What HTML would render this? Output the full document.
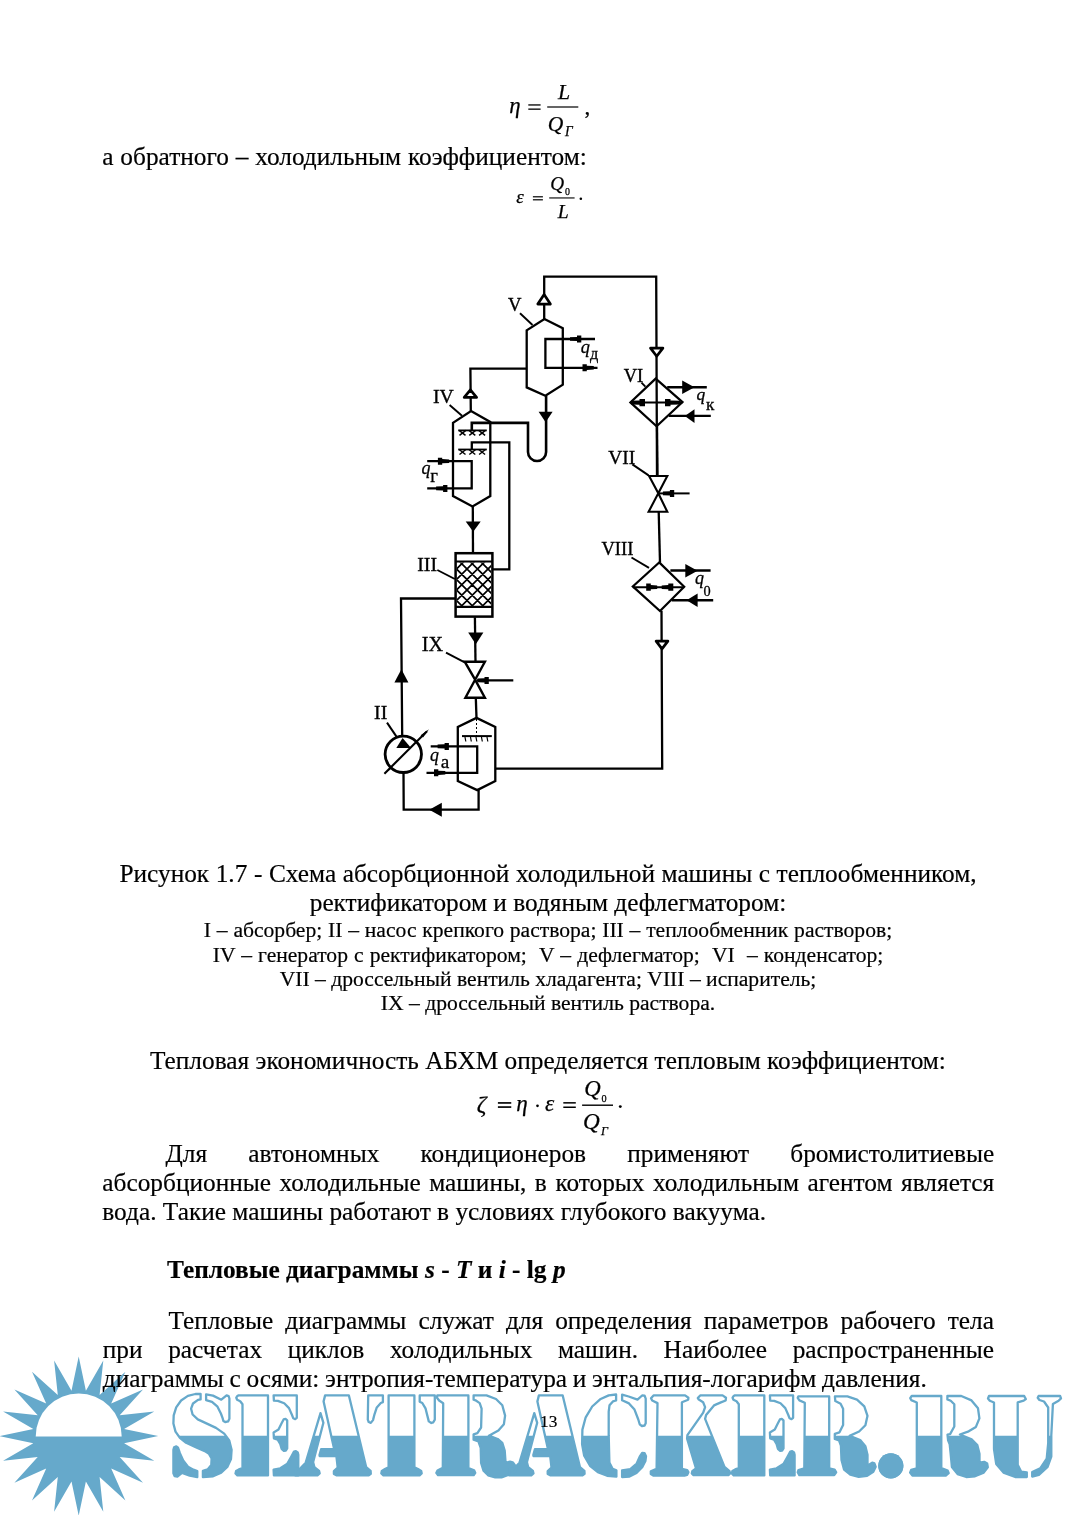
<!DOCTYPE html>
<html><head><meta charset="utf-8">
<style>
html,body{margin:0;padding:0;background:#fff;}
body{width:1080px;height:1515px;position:relative;overflow:hidden;font-family:"Liberation Serif",serif;color:#000;}
.t{-webkit-text-stroke:0.2px #000;position:absolute;white-space:pre;font-size:25.33px;line-height:30px;}
.s{-webkit-text-stroke:0.2px #000;position:absolute;white-space:pre;font-size:21.6px;line-height:30px;left:0;width:1096px;text-align:center;}
.c{left:0;width:1096px;text-align:center;}
.j{text-align:justify;text-align-last:justify;white-space:normal;}
.m{position:absolute;font-family:"Liberation Serif",serif;white-space:pre;line-height:1;}
.i{font-style:italic;}
svg{position:absolute;left:0;top:0;}
#root{position:absolute;left:0;top:0;width:1080px;height:1515px;will-change:transform;}
</style></head><body><div id="root">

<!-- watermark placeholder -->
<!--BEGIN wm-->
<svg width="1080" height="1515" style="position:absolute;left:0;top:0">
<polygon fill="#66a9cb" points="78.7,1356.6 85.9,1390.7 103.3,1360.5 99.6,1395.1 125.4,1371.8 111.2,1403.6 143.0,1389.4 119.7,1415.2 154.3,1411.5 124.1,1428.9 158.2,1436.1 124.1,1443.3 154.3,1460.7 119.7,1457.0 143.0,1482.8 111.2,1468.6 125.4,1500.4 99.6,1477.1 103.3,1511.7 85.9,1481.5 78.7,1515.6 71.5,1481.5 54.1,1511.7 57.8,1477.1 32.0,1500.4 46.2,1468.6 14.4,1482.8 37.7,1457.0 3.1,1460.7 33.3,1443.3 -0.8,1436.1 33.3,1428.9 3.1,1411.5 37.7,1415.2 14.4,1389.4 46.2,1403.6 32.0,1371.8 57.8,1395.1 54.1,1360.5 71.5,1390.7"/>
<path d="M35.7,1436.5 A43,43 0 0 1 121.7,1436.5 Z" fill="#fff"/>
<clipPath id="wmb"><rect x="0" y="1435.8" width="1080" height="100"/></clipPath>
<g fill="#66a9cb" clip-path="url(#wmb)"><polygon points="200.6,1394.0 195.4,1394.0 187.9,1395.9 181.1,1400.5 176.2,1407.3 173.7,1415.4 173.4,1423.5 175.5,1431.6 179.9,1437.8 186.1,1442.8 195.7,1447.2 204.8,1451.1 209.0,1453.9 211.6,1458.4 211.3,1464.9 207.6,1469.4 202.9,1470.8 202.9,1477.2 213.1,1476.3 221.2,1472.6 227.3,1467.0 231.0,1459.0 231.6,1449.7 229.2,1440.4 224.2,1433.6 216.0,1427.9 206.4,1423.4 197.8,1419.4 192.6,1414.5 191.1,1408.7 193.0,1403.5 198.0,1399.9 200.6,1399.4"/><polygon points="206.1,1394.3 206.1,1400.1 212.0,1401.9 217.5,1406.7 220.9,1413.5 222.6,1418.1 223.4,1421.0 225.2,1422.1 228.1,1421.4 229.4,1418.8 229.4,1398.5 228.6,1396.1 226.6,1395.4 221.3,1399.7 213.0,1395.6"/><polygon points="197.3,1471.1 193.4,1469.7 188.0,1466.7 183.2,1460.5 179.9,1453.2 178.0,1447.7 176.3,1446.3 174.1,1447.2 173.4,1449.7 173.4,1473.3 174.6,1476.1 177.4,1476.5 182.1,1472.9 189.7,1475.7 197.3,1477.0"/><polygon points="238.6,1395.4 237.3,1396.0 236.3,1397.7 237.1,1399.7 240.2,1401.2 242.5,1404.3 242.5,1468.1 238.9,1469.4 236.1,1471.0 235.5,1473.5 237.4,1475.4 268.0,1475.4 268.0,1395.4"/><polygon points="273.6,1395.4 273.9,1400.6 277.9,1400.9 284.2,1403.3 289.0,1408.1 292.0,1415.0 293.3,1418.3 295.2,1419.2 296.8,1417.8 296.8,1395.4"/><polygon points="273.6,1432.4 273.9,1438.3 277.7,1439.7 280.2,1443.8 281.6,1448.8 283.9,1450.9 285.8,1450.6 287.2,1448.4 287.2,1420.4 285.5,1418.9 283.6,1419.4 281.6,1423.3 278.5,1429.6"/><polygon points="273.6,1469.7 273.9,1475.4 298.3,1475.4 298.3,1454.8 297.7,1452.4 295.9,1451.1 294.0,1451.6 291.2,1456.7 287.4,1463.6 280.3,1468.3"/><polygon points="320.5,1413.1 305.7,1462.7 299.9,1468.8 295.4,1468.8 295.4,1475.4 317.5,1475.4 319.7,1473.5 319.1,1470.9 314.4,1467.2 313.1,1462.1 323.4,1422.8"/><polygon points="325.1,1395.4 323.6,1401.4 334.2,1449.2 321.1,1449.2 319.5,1455.1 319.7,1456.1 336.4,1456.1 337.7,1467.7 333.9,1471.1 333.9,1474.0 336.8,1475.4 368.7,1475.4 370.8,1473.8 370.6,1470.8 366.2,1467.2 348.9,1395.4"/><polygon points="368.2,1395.4 367.8,1419.7 368.7,1422.0 370.8,1422.9 373.0,1420.1 374.5,1414.3 376.8,1407.4 380.8,1403.0 382.9,1402.1 382.9,1395.4"/><polygon points="388.6,1395.4 388.6,1467.2 385.0,1469.0 381.8,1470.9 381.3,1473.5 383.4,1475.4 419.6,1475.4 421.7,1473.5 421.2,1470.9 418.0,1469.0 414.4,1467.2 414.4,1395.4"/><polygon points="419.7,1395.4 419.7,1401.7 422.3,1403.0 425.5,1408.3 427.4,1415.9 428.8,1421.4 431.3,1423.0 433.3,1422.3 434.8,1419.6 434.8,1395.4"/><polygon points="437.3,1395.4 437.0,1397.7 439.1,1400.5 443.2,1403.2 442.8,1467.9 437.5,1470.5 436.3,1472.9 438.1,1475.2 473.6,1475.2 475.3,1472.9 474.1,1470.2 468.4,1468.0 468.4,1395.4"/><polygon points="473.6,1395.4 473.6,1399.7 475.5,1400.3 479.7,1403.1 481.6,1408.7 481.1,1427.5 477.4,1433.1 473.6,1434.3 473.6,1439.7 478.4,1441.3 480.7,1447.8 481.1,1462.8 483.5,1470.7 488.1,1475.3 495.2,1477.3 501.5,1477.3 509.6,1474.4 515.6,1471.4 516.3,1468.2 514.9,1465.3 512.7,1462.3 510.0,1461.7 505.6,1462.8 504.7,1450.7 502.3,1442.8 497.7,1439.0 488.9,1435.7 498.4,1430.4 503.9,1424.2 505.1,1415.6 502.3,1405.3 496.0,1399.0 486.5,1395.4"/><polygon points="534.3,1413.1 519.5,1462.7 513.7,1468.8 509.2,1468.8 509.2,1475.4 531.3,1475.4 533.5,1473.5 532.9,1470.9 528.2,1467.2 526.9,1462.1 537.2,1422.8"/><polygon points="538.9,1395.4 537.4,1401.4 548.0,1449.2 534.9,1449.2 533.3,1455.1 533.5,1456.1 550.2,1456.1 551.5,1467.7 547.7,1471.1 547.7,1474.0 550.6,1475.4 582.5,1475.4 584.6,1473.8 584.4,1470.8 580.0,1467.2 562.7,1395.4"/><polygon points="616.1,1394.5 608.7,1395.4 600.1,1399.3 592.2,1406.5 585.7,1417.3 582.4,1429.6 582.1,1444.2 584.2,1455.7 590.0,1465.8 597.8,1472.2 607.1,1475.8 616.4,1476.7 616.4,1470.3 612.7,1468.9 609.4,1462.4 608.7,1435.4 608.7,1411.6 609.5,1405.3 612.9,1401.4 616.1,1400.5"/><polygon points="622.1,1394.7 622.1,1400.2 629.0,1403.4 634.5,1409.6 638.3,1419.5 639.7,1424.3 641.9,1426.0 644.6,1425.5 645.7,1423.3 645.7,1398.6 644.6,1395.7 642.1,1395.5 637.5,1399.7 628.7,1396.5"/><polygon points="622.1,1470.5 622.1,1477.1 629.5,1476.5 636.5,1473.0 642.2,1467.3 645.4,1461.0 646.0,1456.3 644.6,1453.2 642.2,1452.9 639.7,1456.7 636.7,1463.5 630.3,1469.1"/><polygon points="653.5,1395.4 651.0,1398.2 652.2,1400.5 657.5,1403.1 656.6,1468.8 650.8,1471.3 650.8,1474.0 653.3,1475.6 684.5,1475.6 687.2,1474.9 688.4,1472.2 687.2,1470.2 681.9,1468.9 681.9,1402.2 688.2,1399.7 688.4,1397.7 685.1,1395.4"/><polygon points="700.2,1395.4 697.8,1398.1 698.8,1399.6 703.1,1402.2 705.1,1407.1 703.2,1412.7 687.4,1435.1 687.1,1438.7 696.0,1468.4 692.3,1471.2 691.8,1473.5 693.5,1475.2 728.4,1475.2 730.1,1473.5 729.5,1471.1 724.5,1467.0 705.1,1418.9 706.1,1415.0 714.0,1405.4 720.9,1402.4 725.7,1400.5 726.0,1397.7 722.6,1395.4"/><polygon points="734.9,1395.4 733.6,1396.0 732.6,1397.7 733.4,1399.7 736.5,1401.2 738.8,1404.3 738.8,1468.1 735.2,1469.4 732.4,1471.0 731.8,1473.5 733.7,1475.4 764.3,1475.4 764.3,1395.4"/><polygon points="769.9,1395.4 770.2,1400.6 774.2,1400.9 780.5,1403.3 785.3,1408.1 788.3,1415.0 789.6,1418.3 791.5,1419.2 793.1,1417.8 793.1,1395.4"/><polygon points="769.9,1432.4 770.2,1438.3 774.0,1439.7 776.5,1443.8 777.9,1448.8 780.2,1450.9 782.1,1450.6 783.5,1448.4 783.5,1420.4 781.8,1418.9 779.9,1419.4 777.9,1423.3 774.8,1429.6"/><polygon points="769.9,1469.7 770.2,1475.4 794.6,1475.4 794.6,1454.8 794.0,1452.4 792.2,1451.1 790.3,1451.6 787.5,1456.7 783.7,1463.6 776.6,1468.3"/><polygon points="798.3,1396.4 797.7,1397.9 799.4,1400.4 804.8,1402.8 804.3,1468.3 798.5,1470.0 797.7,1472.3 799.3,1475.2 834.2,1475.2 836.2,1472.4 834.6,1469.6 829.2,1468.4 829.2,1396.4"/><polygon points="834.9,1396.4 835.3,1401.1 840.6,1403.8 843.1,1408.8 843.1,1424.9 839.5,1432.3 834.8,1433.8 834.8,1438.9 839.0,1440.4 840.9,1445.5 841.5,1460.0 844.1,1469.6 850.3,1474.7 858.7,1476.8 867.1,1475.8 873.3,1471.7 875.7,1466.8 874.4,1463.4 872.2,1462.6 867.5,1465.7 867.5,1454.8 865.4,1446.3 860.2,1440.1 849.6,1435.9 859.1,1431.5 865.4,1425.2 867.5,1415.8 864.3,1406.4 857.0,1399.6 847.4,1396.4"/><polygon points="911.7,1396.0 910.2,1398.1 911.2,1400.1 916.8,1402.5 916.8,1468.3 911.2,1469.9 910.1,1472.6 912.4,1475.5 945.8,1475.5 948.7,1473.2 947.7,1470.6 941.3,1468.2 941.3,1396.0"/><polygon points="947.4,1396.0 947.4,1399.4 950.7,1400.8 954.3,1404.3 954.3,1426.5 950.1,1434.1 947.5,1434.7 948.1,1440.4 949.7,1444.3 950.5,1452.1 951.9,1467.0 957.6,1474.1 966.3,1477.0 975.0,1476.3 983.7,1472.6 987.8,1467.2 987.2,1463.6 984.2,1461.8 979.5,1462.7 979.5,1453.8 977.3,1445.1 971.6,1439.4 959.9,1434.5 968.7,1431.3 975.9,1426.9 979.4,1418.4 978.0,1408.3 971.5,1400.4 961.3,1396.0"/><polygon points="989.0,1396.0 988.0,1398.5 989.8,1400.8 994.0,1402.5 994.0,1449.0 996.2,1463.9 1003.5,1472.6 1015.2,1477.0 1026.8,1477.0 1026.8,1472.3 1021.1,1471.6 1017.7,1464.7 1017.7,1402.4 1023.7,1400.7 1025.8,1399.1 1024.2,1396.0"/><polygon points="1038.6,1396.0 1037.7,1397.8 1039.4,1400.0 1044.0,1401.5 1048.2,1407.5 1048.2,1443.1 1046.7,1458.7 1040.2,1468.4 1032.2,1472.0 1032.2,1476.6 1038.9,1474.8 1047.6,1466.8 1051.3,1456.6 1051.3,1435.3 1052.9,1404.1 1058.6,1400.8 1061.0,1398.4 1060.1,1396.0"/><circle cx="890.8" cy="1465.8" r="12.6"/></g>
<g fill="none" stroke="#66a9cb" stroke-width="2.3" stroke-linejoin="round"><polygon points="200.6,1394.0 195.4,1394.0 187.9,1395.9 181.1,1400.5 176.2,1407.3 173.7,1415.4 173.4,1423.5 175.5,1431.6 179.9,1437.8 186.1,1442.8 195.7,1447.2 204.8,1451.1 209.0,1453.9 211.6,1458.4 211.3,1464.9 207.6,1469.4 202.9,1470.8 202.9,1477.2 213.1,1476.3 221.2,1472.6 227.3,1467.0 231.0,1459.0 231.6,1449.7 229.2,1440.4 224.2,1433.6 216.0,1427.9 206.4,1423.4 197.8,1419.4 192.6,1414.5 191.1,1408.7 193.0,1403.5 198.0,1399.9 200.6,1399.4"/><polygon points="206.1,1394.3 206.1,1400.1 212.0,1401.9 217.5,1406.7 220.9,1413.5 222.6,1418.1 223.4,1421.0 225.2,1422.1 228.1,1421.4 229.4,1418.8 229.4,1398.5 228.6,1396.1 226.6,1395.4 221.3,1399.7 213.0,1395.6"/><polygon points="197.3,1471.1 193.4,1469.7 188.0,1466.7 183.2,1460.5 179.9,1453.2 178.0,1447.7 176.3,1446.3 174.1,1447.2 173.4,1449.7 173.4,1473.3 174.6,1476.1 177.4,1476.5 182.1,1472.9 189.7,1475.7 197.3,1477.0"/><polygon points="238.6,1395.4 237.3,1396.0 236.3,1397.7 237.1,1399.7 240.2,1401.2 242.5,1404.3 242.5,1468.1 238.9,1469.4 236.1,1471.0 235.5,1473.5 237.4,1475.4 268.0,1475.4 268.0,1395.4"/><polygon points="273.6,1395.4 273.9,1400.6 277.9,1400.9 284.2,1403.3 289.0,1408.1 292.0,1415.0 293.3,1418.3 295.2,1419.2 296.8,1417.8 296.8,1395.4"/><polygon points="273.6,1432.4 273.9,1438.3 277.7,1439.7 280.2,1443.8 281.6,1448.8 283.9,1450.9 285.8,1450.6 287.2,1448.4 287.2,1420.4 285.5,1418.9 283.6,1419.4 281.6,1423.3 278.5,1429.6"/><polygon points="273.6,1469.7 273.9,1475.4 298.3,1475.4 298.3,1454.8 297.7,1452.4 295.9,1451.1 294.0,1451.6 291.2,1456.7 287.4,1463.6 280.3,1468.3"/><polygon points="320.5,1413.1 305.7,1462.7 299.9,1468.8 295.4,1468.8 295.4,1475.4 317.5,1475.4 319.7,1473.5 319.1,1470.9 314.4,1467.2 313.1,1462.1 323.4,1422.8"/><polygon points="325.1,1395.4 323.6,1401.4 334.2,1449.2 321.1,1449.2 319.5,1455.1 319.7,1456.1 336.4,1456.1 337.7,1467.7 333.9,1471.1 333.9,1474.0 336.8,1475.4 368.7,1475.4 370.8,1473.8 370.6,1470.8 366.2,1467.2 348.9,1395.4"/><polygon points="368.2,1395.4 367.8,1419.7 368.7,1422.0 370.8,1422.9 373.0,1420.1 374.5,1414.3 376.8,1407.4 380.8,1403.0 382.9,1402.1 382.9,1395.4"/><polygon points="388.6,1395.4 388.6,1467.2 385.0,1469.0 381.8,1470.9 381.3,1473.5 383.4,1475.4 419.6,1475.4 421.7,1473.5 421.2,1470.9 418.0,1469.0 414.4,1467.2 414.4,1395.4"/><polygon points="419.7,1395.4 419.7,1401.7 422.3,1403.0 425.5,1408.3 427.4,1415.9 428.8,1421.4 431.3,1423.0 433.3,1422.3 434.8,1419.6 434.8,1395.4"/><polygon points="437.3,1395.4 437.0,1397.7 439.1,1400.5 443.2,1403.2 442.8,1467.9 437.5,1470.5 436.3,1472.9 438.1,1475.2 473.6,1475.2 475.3,1472.9 474.1,1470.2 468.4,1468.0 468.4,1395.4"/><polygon points="473.6,1395.4 473.6,1399.7 475.5,1400.3 479.7,1403.1 481.6,1408.7 481.1,1427.5 477.4,1433.1 473.6,1434.3 473.6,1439.7 478.4,1441.3 480.7,1447.8 481.1,1462.8 483.5,1470.7 488.1,1475.3 495.2,1477.3 501.5,1477.3 509.6,1474.4 515.6,1471.4 516.3,1468.2 514.9,1465.3 512.7,1462.3 510.0,1461.7 505.6,1462.8 504.7,1450.7 502.3,1442.8 497.7,1439.0 488.9,1435.7 498.4,1430.4 503.9,1424.2 505.1,1415.6 502.3,1405.3 496.0,1399.0 486.5,1395.4"/><polygon points="534.3,1413.1 519.5,1462.7 513.7,1468.8 509.2,1468.8 509.2,1475.4 531.3,1475.4 533.5,1473.5 532.9,1470.9 528.2,1467.2 526.9,1462.1 537.2,1422.8"/><polygon points="538.9,1395.4 537.4,1401.4 548.0,1449.2 534.9,1449.2 533.3,1455.1 533.5,1456.1 550.2,1456.1 551.5,1467.7 547.7,1471.1 547.7,1474.0 550.6,1475.4 582.5,1475.4 584.6,1473.8 584.4,1470.8 580.0,1467.2 562.7,1395.4"/><polygon points="616.1,1394.5 608.7,1395.4 600.1,1399.3 592.2,1406.5 585.7,1417.3 582.4,1429.6 582.1,1444.2 584.2,1455.7 590.0,1465.8 597.8,1472.2 607.1,1475.8 616.4,1476.7 616.4,1470.3 612.7,1468.9 609.4,1462.4 608.7,1435.4 608.7,1411.6 609.5,1405.3 612.9,1401.4 616.1,1400.5"/><polygon points="622.1,1394.7 622.1,1400.2 629.0,1403.4 634.5,1409.6 638.3,1419.5 639.7,1424.3 641.9,1426.0 644.6,1425.5 645.7,1423.3 645.7,1398.6 644.6,1395.7 642.1,1395.5 637.5,1399.7 628.7,1396.5"/><polygon points="622.1,1470.5 622.1,1477.1 629.5,1476.5 636.5,1473.0 642.2,1467.3 645.4,1461.0 646.0,1456.3 644.6,1453.2 642.2,1452.9 639.7,1456.7 636.7,1463.5 630.3,1469.1"/><polygon points="653.5,1395.4 651.0,1398.2 652.2,1400.5 657.5,1403.1 656.6,1468.8 650.8,1471.3 650.8,1474.0 653.3,1475.6 684.5,1475.6 687.2,1474.9 688.4,1472.2 687.2,1470.2 681.9,1468.9 681.9,1402.2 688.2,1399.7 688.4,1397.7 685.1,1395.4"/><polygon points="700.2,1395.4 697.8,1398.1 698.8,1399.6 703.1,1402.2 705.1,1407.1 703.2,1412.7 687.4,1435.1 687.1,1438.7 696.0,1468.4 692.3,1471.2 691.8,1473.5 693.5,1475.2 728.4,1475.2 730.1,1473.5 729.5,1471.1 724.5,1467.0 705.1,1418.9 706.1,1415.0 714.0,1405.4 720.9,1402.4 725.7,1400.5 726.0,1397.7 722.6,1395.4"/><polygon points="734.9,1395.4 733.6,1396.0 732.6,1397.7 733.4,1399.7 736.5,1401.2 738.8,1404.3 738.8,1468.1 735.2,1469.4 732.4,1471.0 731.8,1473.5 733.7,1475.4 764.3,1475.4 764.3,1395.4"/><polygon points="769.9,1395.4 770.2,1400.6 774.2,1400.9 780.5,1403.3 785.3,1408.1 788.3,1415.0 789.6,1418.3 791.5,1419.2 793.1,1417.8 793.1,1395.4"/><polygon points="769.9,1432.4 770.2,1438.3 774.0,1439.7 776.5,1443.8 777.9,1448.8 780.2,1450.9 782.1,1450.6 783.5,1448.4 783.5,1420.4 781.8,1418.9 779.9,1419.4 777.9,1423.3 774.8,1429.6"/><polygon points="769.9,1469.7 770.2,1475.4 794.6,1475.4 794.6,1454.8 794.0,1452.4 792.2,1451.1 790.3,1451.6 787.5,1456.7 783.7,1463.6 776.6,1468.3"/><polygon points="798.3,1396.4 797.7,1397.9 799.4,1400.4 804.8,1402.8 804.3,1468.3 798.5,1470.0 797.7,1472.3 799.3,1475.2 834.2,1475.2 836.2,1472.4 834.6,1469.6 829.2,1468.4 829.2,1396.4"/><polygon points="834.9,1396.4 835.3,1401.1 840.6,1403.8 843.1,1408.8 843.1,1424.9 839.5,1432.3 834.8,1433.8 834.8,1438.9 839.0,1440.4 840.9,1445.5 841.5,1460.0 844.1,1469.6 850.3,1474.7 858.7,1476.8 867.1,1475.8 873.3,1471.7 875.7,1466.8 874.4,1463.4 872.2,1462.6 867.5,1465.7 867.5,1454.8 865.4,1446.3 860.2,1440.1 849.6,1435.9 859.1,1431.5 865.4,1425.2 867.5,1415.8 864.3,1406.4 857.0,1399.6 847.4,1396.4"/><polygon points="911.7,1396.0 910.2,1398.1 911.2,1400.1 916.8,1402.5 916.8,1468.3 911.2,1469.9 910.1,1472.6 912.4,1475.5 945.8,1475.5 948.7,1473.2 947.7,1470.6 941.3,1468.2 941.3,1396.0"/><polygon points="947.4,1396.0 947.4,1399.4 950.7,1400.8 954.3,1404.3 954.3,1426.5 950.1,1434.1 947.5,1434.7 948.1,1440.4 949.7,1444.3 950.5,1452.1 951.9,1467.0 957.6,1474.1 966.3,1477.0 975.0,1476.3 983.7,1472.6 987.8,1467.2 987.2,1463.6 984.2,1461.8 979.5,1462.7 979.5,1453.8 977.3,1445.1 971.6,1439.4 959.9,1434.5 968.7,1431.3 975.9,1426.9 979.4,1418.4 978.0,1408.3 971.5,1400.4 961.3,1396.0"/><polygon points="989.0,1396.0 988.0,1398.5 989.8,1400.8 994.0,1402.5 994.0,1449.0 996.2,1463.9 1003.5,1472.6 1015.2,1477.0 1026.8,1477.0 1026.8,1472.3 1021.1,1471.6 1017.7,1464.7 1017.7,1402.4 1023.7,1400.7 1025.8,1399.1 1024.2,1396.0"/><polygon points="1038.6,1396.0 1037.7,1397.8 1039.4,1400.0 1044.0,1401.5 1048.2,1407.5 1048.2,1443.1 1046.7,1458.7 1040.2,1468.4 1032.2,1472.0 1032.2,1476.6 1038.9,1474.8 1047.6,1466.8 1051.3,1456.6 1051.3,1435.3 1052.9,1404.1 1058.6,1400.8 1061.0,1398.4 1060.1,1396.0"/></g>
<circle cx="890.8" cy="1465.8" r="12.6" fill="#66a9cb"/>
</svg>
<!--END wm-->

<!-- formula 1 -->
<!--BEGIN f1-->
<svg width="1080" height="1515" style="position:absolute;left:0;top:0" font-family="Liberation Serif">
<text x="509.20" y="112.90" font-size="22.81" font-style="italic" stroke="#000" stroke-width="0.25">η</text>
<rect x="528.30" y="104.30" width="12.30" height="1.30" fill="#000"/>
<rect x="528.30" y="108.50" width="12.30" height="1.30" fill="#000"/>
<rect x="547.20" y="106.40" width="31.10" height="1.20" fill="#000"/>
<text x="558.00" y="98.70" font-size="21.83" font-style="italic" stroke="#000" stroke-width="0.25">L</text>
<text x="547.70" y="130.90" font-size="21.48" font-style="italic" stroke="#000" stroke-width="0.25">Q</text>
<text x="565.10" y="135.60" font-size="13.59" font-style="italic" stroke="#000" stroke-width="0.25">Г</text>
<text x="584.6" y="113.6" font-size="23" stroke="#000" stroke-width="0.25">,</text>
<text x="516.30" y="203.10" font-size="18.92" font-style="italic" stroke="#000" stroke-width="0.25">ε</text>
<rect x="532.90" y="196.20" width="10.00" height="1.20" fill="#000"/>
<rect x="532.90" y="199.20" width="10.00" height="1.20" fill="#000"/>
<rect x="549.20" y="197.40" width="25.40" height="1.10" fill="#000"/>
<text x="550.15" y="190.20" font-size="19.17" font-style="italic" stroke="#000" stroke-width="0.25">Q</text>
<text x="565.00" y="194.50" font-size="9.93" stroke="#000" stroke-width="0.25">0</text>
<text x="557.70" y="217.90" font-size="19.69" font-style="italic" stroke="#000" stroke-width="0.25">L</text>
<circle cx="580.85" cy="198.75" r="1.30"/>
<text x="476.70" y="1111.70" font-size="23.85" font-style="italic" stroke="#000" stroke-width="0.25">ζ</text>
<rect x="497.90" y="1102.10" width="13.35" height="1.65" fill="#000"/>
<rect x="497.90" y="1106.25" width="13.35" height="1.65" fill="#000"/>
<text x="516.30" y="1110.90" font-size="23.10" font-style="italic" stroke="#000" stroke-width="0.25">η</text>
<circle cx="537.50" cy="1105.85" r="1.35"/>
<text x="544.90" y="1111.00" font-size="23.39" font-style="italic" stroke="#000" stroke-width="0.25">ε</text>
<rect x="563.30" y="1102.10" width="12.50" height="1.50" fill="#000"/>
<rect x="563.30" y="1106.50" width="12.50" height="1.50" fill="#000"/>
<rect x="582.10" y="1104.50" width="30.90" height="1.40" fill="#000"/>
<text x="584.30" y="1096.00" font-size="22.75" font-style="italic" stroke="#000" stroke-width="0.25">Q</text>
<text x="601.50" y="1101.60" font-size="10.22" stroke="#000" stroke-width="0.25">0</text>
<text x="582.90" y="1129.30" font-size="23.18" font-style="italic" stroke="#000" stroke-width="0.25">Q</text>
<text x="600.90" y="1134.70" font-size="12.21" font-style="italic" stroke="#000" stroke-width="0.25">Г</text>
<circle cx="620.30" cy="1106.60" r="1.45"/>
</svg>
<!--END f1-->

<div class="t" style="left:102.3px;top:141.45px;word-spacing:0.5px">а обратного – холодильным коэффициентом:</div>


<!-- diagram -->
<!--BEGIN dg-->
<svg width="1080" height="1515" style="position:absolute;left:0;top:0" font-family="Liberation Serif" stroke-width="0">
<polyline points="544.2,319.0 544.2,276.7 656.2,276.7 657.0,475.6" fill="none" stroke="#000" stroke-width="2.3"/>
<polygon points="544.1,294.6 550.4,304.1 537.8,304.1" fill="#fff" stroke="#000" stroke-width="2.7" stroke-linejoin="round"/>
<polygon points="650.5,348.1 662.9,348.1 656.7,356.3" fill="#fff" stroke="#000" stroke-width="2.7" stroke-linejoin="round"/>
<polygon points="544.4,319.0 562.8,328.3 562.8,384.6 545.4,395.7 526.7,387.4 526.7,330.4" fill="none" stroke="#000" stroke-width="2.3"/>
<polyline points="595.0,339.0 545.4,339.0 545.4,367.8 597.5,367.8" fill="none" stroke="#000" stroke-width="2.3"/>
<polygon points="570.0,337.2 577.0,336.9 577.0,335.5 581.3,335.5 581.3,342.5 577.0,342.5 577.0,341.1 570.0,340.8" fill="#000"/>
<polygon points="593.8,366.0 586.8,365.7 586.8,364.3 582.5,364.3 582.5,371.3 586.8,371.3 586.8,369.9 593.8,369.6" fill="#000"/>
<text x="508.10" y="311.40" font-size="18.66" stroke="#000" stroke-width="0.35">V</text>
<line x1="520.0" y1="313.3" x2="532.5" y2="325.0" stroke="#000" stroke-width="1.9" stroke-linecap="butt"/>
<text x="580.65" y="352.80" font-size="18.27" font-style="italic" stroke="#000" stroke-width="0.3">q</text>
<text x="590.00" y="359.20" font-size="16.26" stroke="#000" stroke-width="0.3">д</text>
<polyline points="526.7,368.6 470.4,368.6 470.8,411.0" fill="none" stroke="#000" stroke-width="2.3"/>
<polygon points="470.4,389.8 476.6,397.4 464.2,397.4" fill="#fff" stroke="#000" stroke-width="2.7" stroke-linejoin="round"/>
<path d="M546.1,395.7 L546.1,452 A9.05,9.05 0 0 1 528,452 L528,422.9 L471.8,422.9 L471.8,430.4" fill="none" stroke="#000" stroke-width="2.6"/>
<polygon points="538.6,411.7 552.6,411.7 545.6,422.2" fill="#000"/>
<polygon points="471.0,411.0 490.3,422.0 490.3,496.0 472.5,506.4 453.0,496.0 453.0,422.8" fill="none" stroke="#000" stroke-width="2.3"/>
<line x1="458.2" y1="430.4" x2="486.8" y2="430.4" stroke="#000" stroke-width="1.8" stroke-linecap="butt"/>
<line x1="459.1" y1="430.4" x2="465.5" y2="435.4" stroke="#000" stroke-width="1.4" stroke-linecap="butt"/>
<line x1="465.9" y1="430.4" x2="459.5" y2="435.4" stroke="#000" stroke-width="1.4" stroke-linecap="butt"/>
<line x1="468.9" y1="430.4" x2="475.3" y2="435.4" stroke="#000" stroke-width="1.4" stroke-linecap="butt"/>
<line x1="475.7" y1="430.4" x2="469.3" y2="435.4" stroke="#000" stroke-width="1.4" stroke-linecap="butt"/>
<line x1="478.7" y1="430.4" x2="485.1" y2="435.4" stroke="#000" stroke-width="1.4" stroke-linecap="butt"/>
<line x1="485.5" y1="430.4" x2="479.1" y2="435.4" stroke="#000" stroke-width="1.4" stroke-linecap="butt"/>
<line x1="458.2" y1="449.5" x2="486.8" y2="449.5" stroke="#000" stroke-width="1.8" stroke-linecap="butt"/>
<line x1="459.1" y1="449.5" x2="465.5" y2="454.5" stroke="#000" stroke-width="1.4" stroke-linecap="butt"/>
<line x1="465.9" y1="449.5" x2="459.5" y2="454.5" stroke="#000" stroke-width="1.4" stroke-linecap="butt"/>
<line x1="468.9" y1="449.5" x2="475.3" y2="454.5" stroke="#000" stroke-width="1.4" stroke-linecap="butt"/>
<line x1="475.7" y1="449.5" x2="469.3" y2="454.5" stroke="#000" stroke-width="1.4" stroke-linecap="butt"/>
<line x1="478.7" y1="449.5" x2="485.1" y2="454.5" stroke="#000" stroke-width="1.4" stroke-linecap="butt"/>
<line x1="485.5" y1="449.5" x2="479.1" y2="454.5" stroke="#000" stroke-width="1.4" stroke-linecap="butt"/>
<polyline points="471.8,449.5 471.8,442.4 509.3,442.4 509.3,569.4 492.4,569.4" fill="none" stroke="#000" stroke-width="2.3"/>
<polyline points="427.2,461.2 471.7,461.2 471.7,488.4 427.2,488.4" fill="none" stroke="#000" stroke-width="2.3"/>
<polygon points="449.2,459.4 442.2,459.1 442.2,457.7 437.9,457.7 437.9,464.7 442.2,464.7 442.2,463.3 449.2,463.0" fill="#000"/>
<polygon points="436.1,486.6 443.1,486.3 443.1,484.9 447.4,484.9 447.4,491.9 443.1,491.9 443.1,490.5 436.1,490.2" fill="#000"/>
<text x="421.60" y="473.50" font-size="17.98" font-style="italic" stroke="#000" stroke-width="0.3">q</text>
<text x="430.30" y="482.30" font-size="18.74" stroke="#000" stroke-width="0.3">г</text>
<text x="432.90" y="403.30" font-size="19.70" stroke="#000" stroke-width="0.35">IV</text>
<line x1="449.6" y1="405.0" x2="462.0" y2="415.8" stroke="#000" stroke-width="1.9" stroke-linecap="butt"/>
<line x1="472.8" y1="506.4" x2="473.0" y2="553.2" stroke="#000" stroke-width="2.3" stroke-linecap="butt"/>
<polygon points="465.7,521.4 480.7,521.4 473.2,531.8" fill="#000"/>
<rect x="455.6" y="553.2" width="36.8" height="63.4" fill="#fff" stroke="#000" stroke-width="2.5"/>
<clipPath id="hx"><rect x="456.8" y="562.5" width="34.2" height="43.5"/></clipPath>
<path clip-path="url(#hx)" d="M312.0,540 L402.0,630 M370.0,540 L280.0,630 M322.5,540 L412.5,630 M380.5,540 L290.5,630 M333.0,540 L423.0,630 M391.0,540 L301.0,630 M343.5,540 L433.5,630 M401.5,540 L311.5,630 M354.0,540 L444.0,630 M412.0,540 L322.0,630 M364.5,540 L454.5,630 M422.5,540 L332.5,630 M375.0,540 L465.0,630 M433.0,540 L343.0,630 M385.5,540 L475.5,630 M443.5,540 L353.5,630 M396.0,540 L486.0,630 M454.0,540 L364.0,630 M406.5,540 L496.5,630 M464.5,540 L374.5,630 M417.0,540 L507.0,630 M475.0,540 L385.0,630 M427.5,540 L517.5,630 M485.5,540 L395.5,630 M438.0,540 L528.0,630 M496.0,540 L406.0,630 M448.5,540 L538.5,630 M506.5,540 L416.5,630 M459.0,540 L549.0,630 M517.0,540 L427.0,630 M469.5,540 L559.5,630 M527.5,540 L437.5,630 M480.0,540 L570.0,630 M538.0,540 L448.0,630 M490.5,540 L580.5,630 M548.5,540 L458.5,630 M501.0,540 L591.0,630 M559.0,540 L469.0,630 M511.5,540 L601.5,630 M569.5,540 L479.5,630 M522.0,540 L612.0,630 M580.0,540 L490.0,630 M532.5,540 L622.5,630 M590.5,540 L500.5,630 M543.0,540 L633.0,630 M601.0,540 L511.0,630 M553.5,540 L643.5,630 M611.5,540 L521.5,630 M564.0,540 L654.0,630 M622.0,540 L532.0,630 M574.5,540 L664.5,630 M632.5,540 L542.5,630" stroke="#000" stroke-width="1.7" fill="none"/>
<line x1="455.6" y1="561.5" x2="492.4" y2="561.5" stroke="#000" stroke-width="2.1" stroke-linecap="butt"/>
<line x1="455.6" y1="606.9" x2="492.4" y2="606.9" stroke="#000" stroke-width="2.1" stroke-linecap="butt"/>
<text x="417.20" y="570.70" font-size="19.85" stroke="#000" stroke-width="0.35">III</text>
<line x1="437.3" y1="570.0" x2="454.8" y2="579.0" stroke="#000" stroke-width="1.9" stroke-linecap="butt"/>
<polyline points="455.6,598.5 401.0,598.5 402.2,736.0" fill="none" stroke="#000" stroke-width="2.3"/>
<polygon points="401.4,669.3 408.4,682.5 394.4,682.5" fill="#000"/>
<line x1="474.9" y1="617.3" x2="475.5" y2="661.7" stroke="#000" stroke-width="2.3" stroke-linecap="butt"/>
<polygon points="468.2,632.5 483.4,632.5 475.8,644.3" fill="#000"/>
<polygon points="464.7,661.7 484.9,661.7 475.1,679.7 465.4,697.8 484.9,697.8 475.1,679.7" fill="none" stroke="#000" stroke-width="2.4"/>
<line x1="513.3" y1="680.4" x2="477.0" y2="680.4" stroke="#000" stroke-width="2.2" stroke-linecap="butt"/>
<polygon points="477.5,678.6 484.5,678.3 484.5,676.9 488.8,676.9 488.8,683.9 484.5,683.9 484.5,682.5 477.5,682.2" fill="#000"/>
<text x="421.70" y="650.60" font-size="20.15" stroke="#000" stroke-width="0.35">IX</text>
<line x1="446.0" y1="652.6" x2="464.7" y2="662.4" stroke="#000" stroke-width="1.9" stroke-linecap="butt"/>
<line x1="475.8" y1="697.8" x2="476.5" y2="717.9" stroke="#000" stroke-width="2.3" stroke-linecap="butt"/>
<polygon points="476.5,717.9 495.3,727.0 495.3,781.1 477.2,790.1 457.8,781.1 457.8,727.0" fill="none" stroke="#000" stroke-width="2.3"/>
<line x1="476.5" y1="719" x2="476.5" y2="736" stroke="#000" stroke-width="1" stroke-dasharray="2,2"/>
<line x1="462.0" y1="736.1" x2="491.8" y2="736.1" stroke="#000" stroke-width="2.0" stroke-linecap="butt"/>
<line x1="465.0" y1="737.0" x2="465.8" y2="741.5" stroke="#000" stroke-width="1.2" stroke-linecap="butt"/>
<line x1="470.5" y1="737.0" x2="471.3" y2="741.5" stroke="#000" stroke-width="1.2" stroke-linecap="butt"/>
<line x1="476.0" y1="737.0" x2="476.8" y2="741.5" stroke="#000" stroke-width="1.2" stroke-linecap="butt"/>
<line x1="481.5" y1="737.0" x2="482.3" y2="741.5" stroke="#000" stroke-width="1.2" stroke-linecap="butt"/>
<line x1="487.0" y1="737.0" x2="487.8" y2="741.5" stroke="#000" stroke-width="1.2" stroke-linecap="butt"/>
<polyline points="430.7,746.4 477.2,746.4 477.2,772.8 426.5,772.8" fill="none" stroke="#000" stroke-width="2.3"/>
<polygon points="437.6,744.6 444.6,744.3 444.6,742.9 448.9,742.9 448.9,749.9 444.6,749.9 444.6,748.5 437.6,748.2" fill="#000"/>
<polygon points="445.3,771.0 438.3,770.7 438.3,769.3 434.0,769.3 434.0,776.3 438.3,776.3 438.3,774.9 445.3,774.6" fill="#000"/>
<text x="430.00" y="760.90" font-size="17.84" font-style="italic" stroke="#000" stroke-width="0.3">q</text>
<text x="440.70" y="768.40" font-size="19.21" stroke="#000" stroke-width="0.3">а</text>
<polyline points="495.3,768.7 662.2,768.7 661.5,610.7" fill="none" stroke="#000" stroke-width="2.3"/>
<polyline points="478.6,790.0 478.6,809.6 403.7,809.6 403.5,772.5" fill="none" stroke="#000" stroke-width="2.3"/>
<polygon points="429.3,809.8 441.8,802.8 441.8,816.8" fill="#000"/>
<circle cx="403.3" cy="754.3" r="18.2" fill="none" stroke="#000" stroke-width="2.8"/>
<polygon points="402.6,738.1 411.1,748.0 396.3,748.0" fill="#000"/>
<line x1="384.4" y1="773.7" x2="427.0" y2="731.2" stroke="#000" stroke-width="2.1" stroke-linecap="butt"/>
<polygon points="429.0,729.2 420.6,735.2 423.0,737.6" fill="#000"/>
<polygon points="384.4,773.7 390.5,767.0 391.7,768.4" fill="#000"/>
<text x="374.10" y="718.50" font-size="19.69" stroke="#000" stroke-width="0.35">II</text>
<line x1="387.0" y1="722.6" x2="397.0" y2="737.4" stroke="#000" stroke-width="2.0" stroke-linecap="butt"/>
<polygon points="655.7,378.6 682.5,402.1 656.6,426.2 630.4,402.4" fill="none" stroke="#000" stroke-width="2.2"/>
<line x1="630.4" y1="402.6" x2="682.5" y2="402.6" stroke="#000" stroke-width="2.0" stroke-linecap="butt"/>
<polygon points="631.0,400.7 639.5,400.4 639.5,399.0 645.0,399.0 645.0,406.2 639.5,406.2 639.5,404.8 631.0,404.5" fill="#000"/>
<polygon points="680.0,400.7 670.5,400.4 670.5,399.0 665.0,399.0 665.0,406.2 670.5,406.2 670.5,404.8 680.0,404.5" fill="#000"/>
<line x1="667.2" y1="387.3" x2="706.8" y2="387.3" stroke="#000" stroke-width="2.4" stroke-linecap="butt"/>
<polygon points="694.5,387.2 682.2,380.4 682.2,394.0" fill="#000"/>
<line x1="669.0" y1="415.9" x2="710.8" y2="415.9" stroke="#000" stroke-width="2.4" stroke-linecap="butt"/>
<polygon points="684.8,416.1 694.5,409.2 694.5,423.0" fill="#000"/>
<text x="696.50" y="399.90" font-size="17.40" font-style="italic" stroke="#000" stroke-width="0.3">q</text>
<text x="706.10" y="409.70" font-size="17.21" stroke="#000" stroke-width="0.3">к</text>
<text x="623.80" y="381.70" font-size="18.36" stroke="#000" stroke-width="0.35">VI</text>
<line x1="641.5" y1="382.7" x2="645.4" y2="386.6" stroke="#000" stroke-width="1.9" stroke-linecap="butt"/>
<line x1="657.0" y1="426.0" x2="657.5" y2="475.6" stroke="#000" stroke-width="2.3" stroke-linecap="butt"/>
<polygon points="649.1,476.0 667.3,476.0 658.3,493.2 648.6,511.8 667.3,511.8 658.3,493.2" fill="none" stroke="#000" stroke-width="2.1"/>
<line x1="689.6" y1="493.4" x2="659.0" y2="493.4" stroke="#000" stroke-width="2.0" stroke-linecap="butt"/>
<polygon points="662.9,491.6 669.9,491.3 669.9,489.9 674.2,489.9 674.2,496.9 669.9,496.9 669.9,495.5 662.9,495.2" fill="#000"/>
<text x="608.20" y="464.10" font-size="19.40" stroke="#000" stroke-width="0.35">VII</text>
<line x1="632.4" y1="464.4" x2="648.6" y2="475.4" stroke="#000" stroke-width="1.9" stroke-linecap="butt"/>
<line x1="658.7" y1="511.5" x2="660.0" y2="562.7" stroke="#000" stroke-width="2.3" stroke-linecap="butt"/>
<polygon points="659.2,562.4 684.2,586.7 660.0,611.1 632.8,586.4" fill="none" stroke="#000" stroke-width="2.2"/>
<line x1="632.8" y1="587.2" x2="684.2" y2="587.2" stroke="#000" stroke-width="2.0" stroke-linecap="butt"/>
<polygon points="657.2,585.4 650.8,585.1 650.8,583.6 646.2,583.6 646.2,590.8 650.8,590.8 650.8,589.3 657.2,589.0" fill="#000"/>
<polygon points="661.7,585.4 668.3,585.1 668.3,583.6 673.3,583.6 673.3,590.8 668.3,590.8 668.3,589.3 661.7,589.0" fill="#000"/>
<line x1="670.4" y1="570.5" x2="710.6" y2="570.5" stroke="#000" stroke-width="2.4" stroke-linecap="butt"/>
<polygon points="697.6,570.8 685.3,564.0 685.3,577.6" fill="#000"/>
<line x1="671.7" y1="600.3" x2="713.2" y2="600.3" stroke="#000" stroke-width="2.4" stroke-linecap="butt"/>
<polygon points="686.6,600.3 697.6,593.5 697.6,607.1" fill="#000"/>
<text x="695.10" y="584.20" font-size="17.98" font-style="italic" stroke="#000" stroke-width="0.3">q</text>
<text x="703.50" y="595.60" font-size="14.37" stroke="#000" stroke-width="0.3">0</text>
<text x="601.50" y="555.30" font-size="18.51" stroke="#000" stroke-width="0.35">VIII</text>
<line x1="631.5" y1="557.5" x2="649.0" y2="567.9" stroke="#000" stroke-width="1.9" stroke-linecap="butt"/>
<polygon points="656.1,641.1 667.9,641.1 662.0,648.9" fill="#fff" stroke="#000" stroke-width="2.7" stroke-linejoin="round"/>
</svg>
<!--END dg-->

<div class="t c" style="top:858.45px;word-spacing:0.22px">Рисунок 1.7 - Схема абсорбционной холодильной машины с теплообменником,</div>
<div class="t c" style="top:886.75px">ректификатором и водяным дефлегматором:</div>
<div class="s" style="top:914.71px;word-spacing:0.4px">I – абсорбер; II – насос крепкого раствора; III – теплообменник растворов;</div>
<div class="s" style="top:939.51px;word-spacing:0.7px">IV – генератор с ректификатором;  V – дефлегматор;  VI  – конденсатор;</div>
<div class="s" style="top:964.41px">VII – дроссельный вентиль хладагента; VIII – испаритель;</div>
<div class="s" style="top:988.21px">IX – дроссельный вентиль раствора.</div>

<div class="t c" style="top:1045.35px">Тепловая экономичность АБХМ определяется тепловым коэффициентом:</div>


<div class="t j" style="left:165.6px;width:828.6px;top:1138.15px">Для автономных кондиционеров применяют бромистолитиевые</div>
<div class="t j" style="left:102.3px;width:891.9px;top:1167.05px">абсорбционные холодильные машины, в которых холодильным агентом является</div>
<div class="t" style="left:102.3px;top:1195.85px">вода. Такие машины работают в условиях глубокого вакуума.</div>

<div class="t" style="left:167px;top:1253.85px;font-weight:bold">Тепловые диаграммы <i>s</i> - <i>T</i> и <i>i</i> - lg <i>p</i></div>

<div class="t j" style="left:168.4px;width:825.6px;top:1305.15px">Тепловые диаграммы служат для определения параметров рабочего тела</div>
<div class="t j" style="left:102.8px;width:891.2px;top:1334.05px">при расчетах циклов холодильных машин. Наиболее распространенные</div>
<div class="t" style="left:102.8px;top:1362.55px;word-spacing:-0.6px">диаграммы с осями: энтропия-температура и энтальпия-логарифм давления.</div>

<div class="t" style="left:540px;top:1406.56px;font-size:17.3px">13</div>

</div></body></html>
